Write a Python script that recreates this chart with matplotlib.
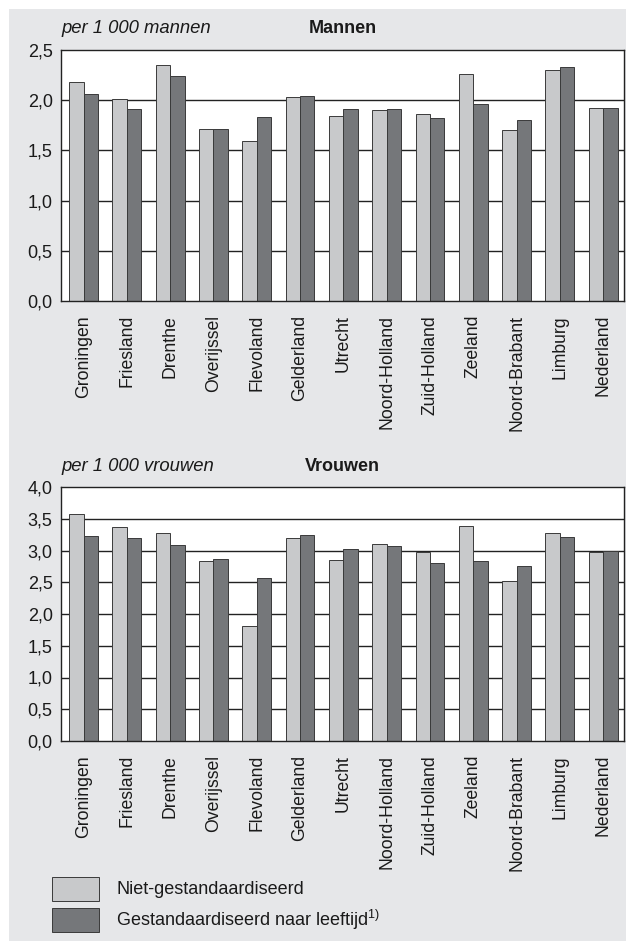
import matplotlib
matplotlib.use("Agg")
import matplotlib.pyplot as plt
import numpy as np
from matplotlib.patches import Rectangle

plt.rcParams['font.family'] = ['Liberation Sans', 'DejaVu Sans']
plt.rcParams['mathtext.fontset'] = 'custom'
plt.rcParams['mathtext.rm'] = 'Liberation Sans'

provinces = ['Groningen', 'Friesland', 'Drenthe', 'Overijssel', 'Flevoland',
             'Gelderland', 'Utrecht', 'Noord-Holland', 'Zuid-Holland',
             'Zeeland', 'Noord-Brabant', 'Limburg', 'Nederland']

# Mannen, per 1 000 mannen
men_raw = [2.18, 2.01, 2.35, 1.71, 1.59, 2.03, 1.84, 1.90, 1.86, 2.26, 1.70, 2.30, 1.92]
men_std = [2.06, 1.91, 2.24, 1.71, 1.83, 2.04, 1.91, 1.91, 1.82, 1.96, 1.80, 2.33, 1.92]

# Vrouwen, per 1 000 vrouwen
women_raw = [3.57, 3.37, 3.28, 2.84, 1.81, 3.19, 2.85, 3.10, 2.97, 3.39, 2.52, 3.28, 2.98]
women_std = [3.23, 3.19, 3.08, 2.86, 2.57, 3.25, 3.02, 3.07, 2.81, 2.84, 2.76, 3.22, 2.99]

men_ticks = [0.0, 0.5, 1.0, 1.5, 2.0, 2.5]
women_ticks = [0.0, 0.5, 1.0, 1.5, 2.0, 2.5, 3.0, 3.5, 4.0]

light = '#c8c9cb'
dark = '#75777a'
edge = '#3a3a3a'
panel = '#e6e7e9'
ink = '#1a1a1a'

W, H = 626, 943
fig = plt.figure(figsize=(W / 100, H / 100), dpi=100)
fig.patch.set_facecolor('white')
fig.patches.append(Rectangle((9 / W, 1 - 941 / H), 1, (941 - 9) / H,
                             transform=fig.transFigure, facecolor=panel,
                             edgecolor='none', zorder=-10))


def draw_panel(rect, raw, std, ticks, unit, title, title_y):
    ax = fig.add_axes(rect)
    ax.set_facecolor('white')
    x = np.arange(len(provinces))
    w = 1 / 3
    for t in ticks[1:-1]:
        ax.axhline(t, color='#222222', lw=1.0, zorder=1)
    ax.bar(x - w / 2, raw, w, color=light, edgecolor=edge, linewidth=0.7, zorder=2)
    ax.bar(x + w / 2, std, w, color=dark, edgecolor=edge, linewidth=0.7, zorder=2)
    ax.set_xlim(-0.52, len(provinces) - 0.52)
    ax.set_ylim(ticks[0], ticks[-1])
    ax.set_yticks(ticks)
    ax.set_yticklabels([f'{t:.1f}'.replace('.', ',') for t in ticks],
                       fontsize=13, color=ink)
    ax.set_xticks(x)
    ax.set_xticklabels(provinces, rotation=90, fontsize=12.7, color=ink)
    ax.tick_params(axis='y', length=0, pad=6)
    ax.tick_params(axis='x', length=0, pad=10)
    for s in ax.spines.values():
        s.set_color('#222222')
        s.set_linewidth(1.0)
    ax.text(0.0, title_y, unit, transform=ax.transAxes, fontsize=13.3,
            style='italic', ha='left', va='center', color=ink)
    ax.text(0.5, title_y, title, transform=ax.transAxes, fontsize=13,
            fontweight='bold', ha='center', va='center', color=ink)
    return ax


left = 61 / W
width = (624 - 61) / W
draw_panel([left, 1 - 301 / H, width, (301 - 50) / H],
           men_raw, men_std, men_ticks, 'per 1 000 mannen', 'Mannen', 1.084)
draw_panel([left, 1 - 741 / H, width, (741 - 487) / H],
           women_raw, women_std, women_ticks, 'per 1 000 vrouwen', 'Vrouwen', 1.079)

# legend
for (y0, y1), col, label in [((877, 901), light, 'Niet-gestandaardiseerd'),
                              ((908, 932), dark, 'Gestandaardiseerd naar leeftijd$^{1)}$')]:
    fig.patches.append(Rectangle((52 / W, 1 - y1 / H), (99 - 52) / W, (y1 - y0) / H,
                                 transform=fig.transFigure, facecolor=col,
                                 edgecolor=edge, linewidth=0.7, zorder=2))
    fig.text(116 / W, 1 - (y0 + y1) / 2 / H, label, fontsize=13,
             ha='left', va='center', color=ink)

fig.savefig('out.png', dpi=100)
